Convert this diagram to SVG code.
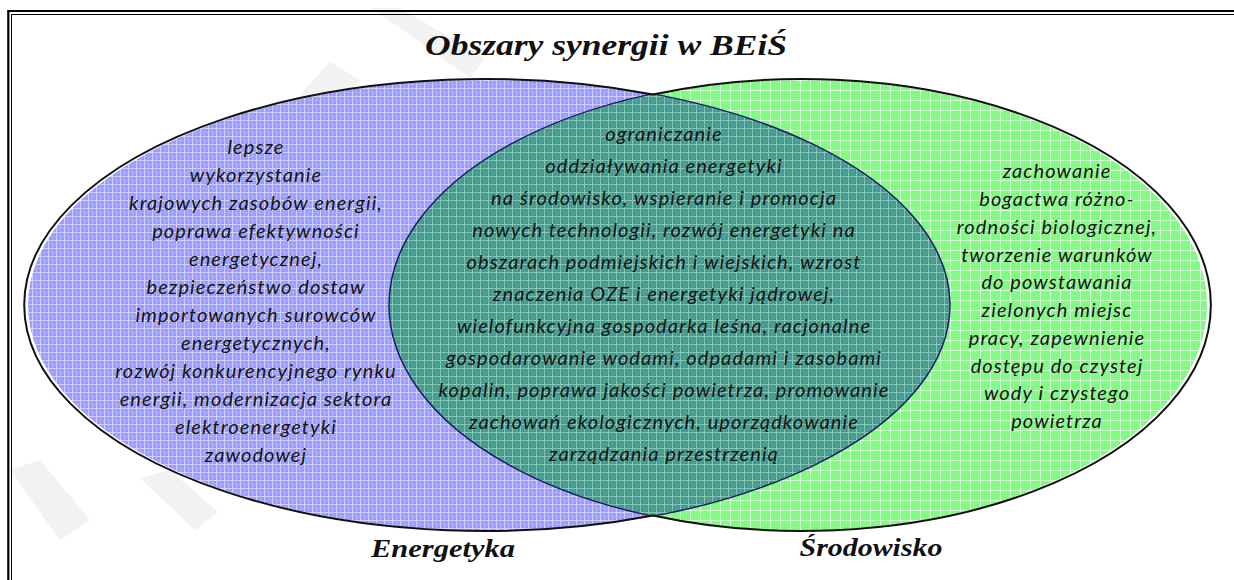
<svg xmlns="http://www.w3.org/2000/svg" width="1234" height="580" viewBox="0 0 1234 580">
<style>
.title{font-family:"Liberation Serif",serif;font-weight:bold;font-style:italic;fill:#111}
.body{font-family:Lato,"Open Sans",sans-serif;font-style:italic;font-size:20px;letter-spacing:1.1px;fill:#161616;text-anchor:middle}
.outer{fill:none;stroke:#111;stroke-width:2}
.inner{fill:none;stroke:#1e1e66;stroke-width:1.5}
</style>
<defs>
<pattern id="pBlue" width="8" height="8" patternUnits="userSpaceOnUse">
<rect width="8" height="8" fill="#9c9cff"/>
<path d="M0.5 0V8M0 0.5H8" stroke="#e6e6ff" stroke-width="1" opacity="0.75"/>
<path d="M4.5 0V8M0 4.5H8" stroke="#b4b4ff" stroke-width="1" opacity="0.6"/>
</pattern>
<pattern id="pGreen" width="10" height="10" patternUnits="userSpaceOnUse">
<rect width="10" height="10" fill="#82fb82"/>
<path d="M0.5 0V10M0 0.5H10" stroke="#e8ffe8" stroke-width="1" opacity="0.8"/>
</pattern>
<pattern id="pTeal" width="8" height="8" patternUnits="userSpaceOnUse">
<rect width="8" height="8" fill="#409c90"/>
<path d="M0.5 0V8M0 0.5H8" stroke="#a8dcc0" stroke-width="1" opacity="0.7"/>
<path d="M4.5 0V8M0 4.5H8" stroke="#5aa6a0" stroke-width="1" opacity="0.6"/>
</pattern>
<clipPath id="cBlue"><ellipse cx="489" cy="305" rx="461" ry="226"/></clipPath>
<clipPath id="cGreen"><ellipse cx="798" cy="305" rx="409" ry="226"/></clipPath>
</defs>
<rect width="1234" height="580" fill="#fff"/>
<g id="watermark" fill="#f2f2f2">
<polygon points="372,8 400,8 485,58 470,78"/>
<polygon points="300,95 330,62 360,80 330,110"/>
<polygon points="140,478 170,470 218,512 195,530"/>
<polygon points="10,470 40,460 90,520 60,540"/>
</g>
<g id="frame" fill="none" stroke="#000">
<path d="M8.3 580V11H1234" stroke-width="2.2"/>
<path d="M11.5 580V14.5H1234" stroke-width="1"/>
</g>
<g id="title"><text class="title" x="606" y="55" font-size="29" text-anchor="middle" textLength="362" lengthAdjust="spacingAndGlyphs">Obszary synergii w BEiŚ</text></g>
<g id="energetyka">
<ellipse cx="489" cy="305" rx="461" ry="226" fill="url(#pBlue)"/>
</g>
<g id="srodowisko">
<ellipse cx="798" cy="305" rx="409" ry="226" fill="url(#pGreen)"/>
</g>
<g id="overlap">
<ellipse cx="798" cy="305" rx="409" ry="226" fill="url(#pTeal)" clip-path="url(#cBlue)"/>
<ellipse class="inner" cx="798" cy="305" rx="409" ry="226" clip-path="url(#cBlue)"/>
<ellipse class="inner" cx="489" cy="305" rx="461" ry="226" clip-path="url(#cGreen)"/>
</g>
<g id="outlines">
<path class="outer" d="M653 94.5A461 226 0 1 0 653 515.5"/>
<path class="outer" d="M653 94.5A409 226 0 1 1 653 515.5"/>
</g>
<g id="energetyka-text" class="body">
<text x="256" y="154">lepsze</text>
<text x="256" y="182">wykorzystanie</text>
<text x="256" y="210">krajowych zasobów energii,</text>
<text x="256" y="238">poprawa efektywności</text>
<text x="256" y="266">energetycznej,</text>
<text x="256" y="294">bezpieczeństwo dostaw</text>
<text x="256" y="322">importowanych surowców</text>
<text x="256" y="350">energetycznych,</text>
<text x="256" y="378">rozwój konkurencyjnego rynku</text>
<text x="256" y="406">energii, modernizacja sektora</text>
<text x="256" y="434">elektroenergetyki</text>
<text x="256" y="462">zawodowej</text>
</g>
<g id="overlap-text" class="body">
<text x="664" y="141">ograniczanie</text>
<text x="664" y="173">oddziaływania energetyki</text>
<text x="664" y="205">na środowisko, wspieranie i promocja</text>
<text x="664" y="237">nowych technologii, rozwój energetyki na</text>
<text x="664" y="269">obszarach podmiejskich i wiejskich, wzrost</text>
<text x="664" y="301">znaczenia OZE i energetyki jądrowej,</text>
<text x="664" y="333">wielofunkcyjna gospodarka leśna, racjonalne</text>
<text x="664" y="365">gospodarowanie wodami, odpadami i zasobami</text>
<text x="664" y="397">kopalin, poprawa jakości powietrza, promowanie</text>
<text x="664" y="429">zachowań ekologicznych, uporządkowanie</text>
<text x="664" y="461">zarządzania przestrzenią</text>
</g>
<g id="srodowisko-text" class="body">
<text x="1057" y="178">zachowanie</text>
<text x="1057" y="206">bogactwa różno-</text>
<text x="1057" y="234">rodności biologicznej,</text>
<text x="1057" y="262">tworzenie warunków</text>
<text x="1057" y="289">do powstawania</text>
<text x="1057" y="317">zielonych miejsc</text>
<text x="1057" y="345">pracy, zapewnienie</text>
<text x="1057" y="373">dostępu do czystej</text>
<text x="1057" y="400">wody i czystego</text>
<text x="1057" y="428">powietrza</text>
</g>
<g id="labels">
<text class="title" x="443" y="557" font-size="26" text-anchor="middle" textLength="144" lengthAdjust="spacingAndGlyphs">Energetyka</text>
<text class="title" x="871" y="556" font-size="26" text-anchor="middle" textLength="143" lengthAdjust="spacingAndGlyphs">Środowisko</text>
</g>
</svg>
